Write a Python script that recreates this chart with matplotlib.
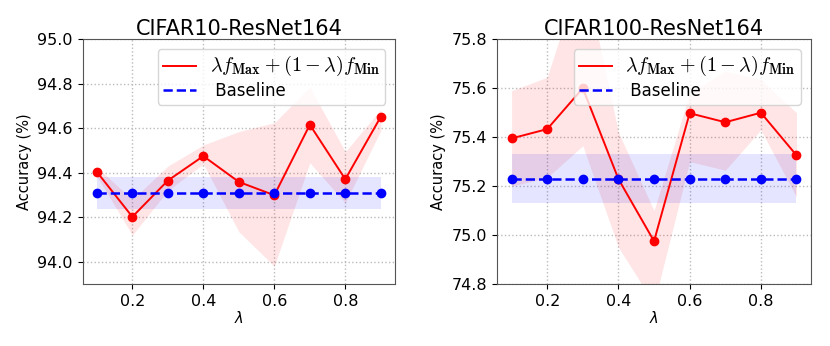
import matplotlib
matplotlib.use("Agg")
import matplotlib.pyplot as plt
from matplotlib.font_manager import FontProperties
import numpy as np

lam = [0.1, 0.2, 0.3, 0.4, 0.5, 0.6, 0.7, 0.8, 0.9]

c10_mean = [94.404, 94.202, 94.365, 94.475, 94.359, 94.299, 94.616, 94.371, 94.652]
c10_upper = [94.425, 94.28, 94.43, 94.525, 94.585, 94.625, 94.785, 94.495, 94.685]
c10_lower = [94.385, 94.12, 94.32, 94.44, 94.135, 93.98, 94.445, 94.265, 94.59]
c10_base = 94.31
c10_base_std = 0.072

c100_mean = [75.395, 75.433, 75.6, 75.229, 74.975, 75.498, 75.461, 75.5, 75.326]
c100_upper = [75.59, 75.645, 76.1, 75.42, 75.1, 75.58, 75.67, 75.635, 75.5]
c100_lower = [75.2, 75.235, 75.365, 74.95, 74.72, 75.3, 75.265, 75.43, 75.155]
c100_base = 75.23
c100_base_std = 0.1

titles = ["CIFAR10-ResNet164", "CIFAR100-ResNet164"]
ylims = [(93.9, 95.0), (74.8, 75.8)]
yticks = [[94.0, 94.2, 94.4, 94.6, 94.8, 95.0], [74.8, 75.0, 75.2, 75.4, 75.6, 75.8]]
xticks = [0.2, 0.4, 0.6, 0.8]
label_main = r'$\lambda f_{\mathbf{Max}} + (1-\lambda) f_{\mathbf{Min}}$'
label_base = ' Baseline'

fig = plt.figure(figsize=(8.3, 3.46), dpi=100)
positions = [[0.0996, 0.1792, 0.3763, 0.7072], [0.5992, 0.1792, 0.3776, 0.7072]]
data = [(c10_mean, c10_upper, c10_lower, c10_base, c10_base_std),
        (c100_mean, c100_upper, c100_lower, c100_base, c100_base_std)]

for i in range(2):
    ax = fig.add_axes(positions[i])
    mean, up, lo, base, bstd = data[i]
    base_arr = np.full(len(lam), base)
    ax.fill_between(lam, lo, up, color='red', alpha=0.1, linewidth=0)
    ax.fill_between(lam, base_arr - bstd, base_arr + bstd, color='blue', alpha=0.1, linewidth=0)
    ax.plot(lam, mean, color='red', linewidth=1.4, label=label_main)
    ax.plot(lam, mean, color='red', marker='o', markersize=6, linestyle='none')
    ax.plot(lam, base_arr, color='blue', linestyle='--', linewidth=1.8, label=label_base)
    ax.plot(lam, base_arr, color='blue', marker='o', markersize=6, linestyle='none')
    ax.set_ylim(*ylims[i])
    ax.set_yticks(yticks[i])
    ax.set_yticklabels([f"{v:.1f}" for v in yticks[i]])
    ax.set_xticks(xticks)
    ax.tick_params(labelsize=11.5, colors='black', length=3.5)
    for s in ax.spines.values():
        s.set_color('#555555')
    ax.grid(True, linestyle=':', color='#bbbbbb', linewidth=1)
    ax.set_axisbelow(True)
    ax.set_title(titles[i], fontsize=15, pad=3)
    ax.set_xlabel(r'$\lambda$', fontsize=10.5, labelpad=1)
    ax.set_ylabel('Accuracy (%)', fontsize=10.5)
    fp = FontProperties(size=12, math_fontfamily='cm')
    leg = ax.legend(loc='upper right', prop=fp, framealpha=0.8, handlelength=2.0,
                    borderpad=0.3, labelspacing=0.2, borderaxespad=0.6)
    leg.get_texts()[0].set_fontsize(14.5)

fig.savefig('out.png', dpi=100)
